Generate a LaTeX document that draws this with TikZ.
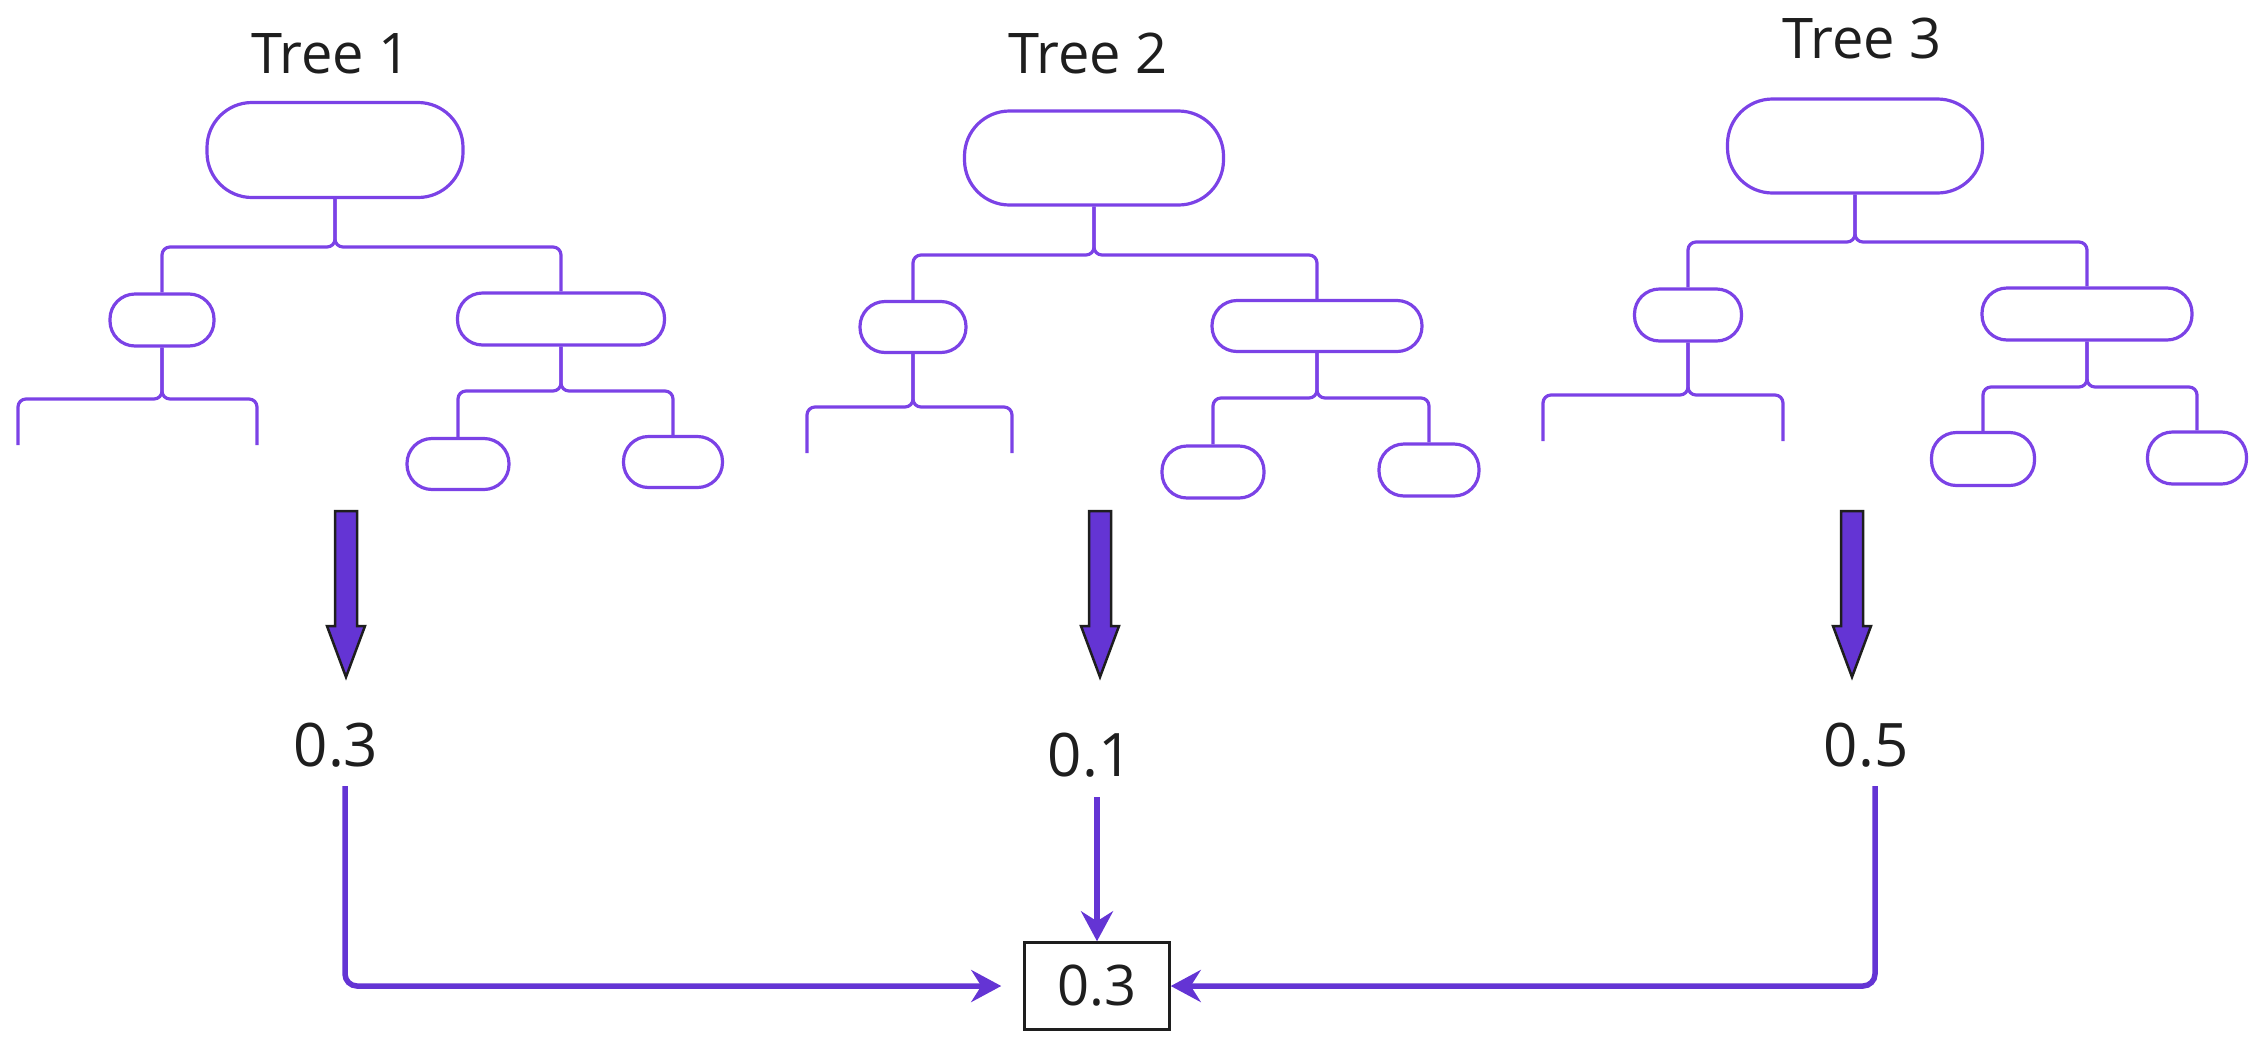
\documentclass[tikz,border=0pt]{standalone}
\usepackage{fontspec}
\setmainfont{Open Sans}
\usetikzlibrary{arrows.meta}
\definecolor{treecol}{HTML}{7B42E6}
\definecolor{arrcol}{HTML}{6434D4}
\definecolor{txtcol}{HTML}{1E1E1E}
\begin{document}
\begin{tikzpicture}[x=1pt,y=-1pt,
  tnode/.style={draw=treecol,line width=3.2pt,inner sep=0pt},
  tline/.style={draw=treecol,line width=3.2pt,rounded corners=8pt},
  title/.style={font=\fontsize{56}{60}\selectfont,text=txtcol,inner sep=0pt,anchor=base},
  val/.style={font=\fontsize{60}{64}\selectfont,text=txtcol,inner sep=0pt,anchor=base},
  fatarrow/.style={fill=arrcol,draw=txtcol,line width=2.5pt,line join=miter},
  thinarr/.style={draw=arrcol,line width=5.5pt,rounded corners=12pt,
    -{Stealth[length=30pt,width=32pt,inset=10pt]}}]
\useasboundingbox (0,0) rectangle (2252,1037);

% ---------------- Tree 1 ----------------
\node[title] (t1title) at (331,73) {Tree 1};
\node[tnode,minimum width=256pt,minimum height=95pt,rounded corners=45pt] (t1root) at (335,150) {};
\node[tnode,minimum width=104pt,minimum height=52pt,rounded corners=25pt] (t1L) at (162,320) {};
\node[tnode,minimum width=207pt,minimum height=52pt,rounded corners=25pt] (t1R) at (561,319) {};
\node[tnode,minimum width=102pt,minimum height=51pt,rounded corners=25pt] (t1RL) at (458,464) {};
\node[tnode,minimum width=99pt,minimum height=51pt,rounded corners=25pt] (t1RR) at (673,462) {};
\coordinate (t1j) at (335,247);
\coordinate (t1Lj) at (162,399);
\coordinate (t1Rj) at (561,391);
\coordinate (t1LL) at (18,445);
\coordinate (t1LR) at (257,445);
\draw[tline] (t1L.north) |- (t1j) -- (t1root.south);
\draw[tline] (t1R.north) |- (t1j) -- (t1root.south);
\draw[tline] (t1LL) |- (t1Lj) -- (t1L.south);
\draw[tline] (t1LR) |- (t1Lj) -- (t1L.south);
\draw[tline] (t1RL.north) |- (t1Rj) -- (t1R.south);
\draw[tline] (t1RR.north) |- (t1Rj) -- (t1R.south);

% ---------------- Tree 2 ----------------
\node[title] (t2title) at (1088,73) {Tree 2};
\node[tnode,minimum width=259pt,minimum height=94pt,rounded corners=45pt] (t2root) at (1094,158) {};
\node[tnode,minimum width=106pt,minimum height=51pt,rounded corners=25pt] (t2L) at (913,327) {};
\node[tnode,minimum width=210pt,minimum height=51pt,rounded corners=25pt] (t2R) at (1317,326) {};
\node[tnode,minimum width=102pt,minimum height=52pt,rounded corners=25pt] (t2RL) at (1213,472) {};
\node[tnode,minimum width=100pt,minimum height=52pt,rounded corners=25pt] (t2RR) at (1429,470) {};
\coordinate (t2j) at (1094,255);
\coordinate (t2Lj) at (913,407);
\coordinate (t2Rj) at (1317,398);
\coordinate (t2LL) at (807,453);
\coordinate (t2LR) at (1012,453);
\draw[tline] (t2L.north) |- (t2j) -- (t2root.south);
\draw[tline] (t2R.north) |- (t2j) -- (t2root.south);
\draw[tline] (t2LL) |- (t2Lj) -- (t2L.south);
\draw[tline] (t2LR) |- (t2Lj) -- (t2L.south);
\draw[tline] (t2RL.north) |- (t2Rj) -- (t2R.south);
\draw[tline] (t2RR.north) |- (t2Rj) -- (t2R.south);

% ---------------- Tree 3 ----------------
\node[title] (t3title) at (1862,58) {Tree 3};
\node[tnode,minimum width=255pt,minimum height=94pt,rounded corners=45pt] (t3root) at (1855,146) {};
\node[tnode,minimum width=107pt,minimum height=52pt,rounded corners=25pt] (t3L) at (1688,315) {};
\node[tnode,minimum width=210pt,minimum height=52pt,rounded corners=25pt] (t3R) at (2087,314) {};
\node[tnode,minimum width=103pt,minimum height=53pt,rounded corners=25pt] (t3RL) at (1983,459) {};
\node[tnode,minimum width=99pt,minimum height=52pt,rounded corners=25pt] (t3RR) at (2197,458) {};
\coordinate (t3j) at (1855,242);
\coordinate (t3Lj) at (1688,395);
\coordinate (t3Rj) at (2087,387);
\coordinate (t3LL) at (1543,441);
\coordinate (t3LR) at (1783,441);
\draw[tline] (t3L.north) |- (t3j) -- (t3root.south);
\draw[tline] (t3R.north) |- (t3j) -- (t3root.south);
\draw[tline] (t3LL) |- (t3Lj) -- (t3L.south);
\draw[tline] (t3LR) |- (t3Lj) -- (t3L.south);
\draw[tline] (t3RL.north) |- (t3Rj) -- (t3R.south);
\draw[tline] (t3RR.north) |- (t3Rj) -- (t3R.south);

% ---------------- fat arrows ----------------
\coordinate (a1) at (346,511);
\coordinate (a2) at (1100,511);
\coordinate (a3) at (1852,511);
\foreach \a in {a1,a2,a3}{
  \draw[fatarrow] (\a) ++(-11,0) -- ++(22,0) -- ++(0,115) -- ++(8,0)
    -- ++(-19,51) -- ++(-19,-51) -- ++(8,0) -- cycle;
}

% ---------------- values ----------------
\node[val] (v1) at (336,766) {0.3};
\node[val] (v2) at (1090,776) {0.1};
\node[val] (v3) at (1866,766) {0.5};

\node[draw=txtcol,line width=2.5pt,minimum width=145pt,minimum height=87pt,inner sep=0pt,
      font=\fontsize{56}{60}\selectfont,text=txtcol] (res) at (1097,986) {0.3};

\draw[thinarr,shorten <=19pt,shorten >=22pt] ([xshift=9pt]v1.south) |- (res.west);
\draw[thinarr,shorten <=20pt] (res.north |- v2.south) -- (res.north);
\draw[thinarr,shorten <=19pt] ([xshift=9pt]v3.south) |- (res.east);
\end{tikzpicture}
\end{document}
